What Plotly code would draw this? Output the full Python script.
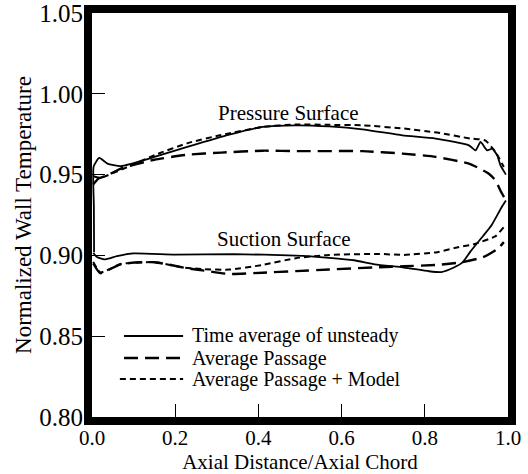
import plotly.graph_objects as go

# ---- Pressure surface ----
ps_unsteady_x = [0.005, 0.0045, 0.004, 0.0175, 0.037, 0.069, 0.15, 0.229, 0.33, 0.41, 0.49, 0.57,
                 0.65, 0.746, 0.826, 0.906, 0.922, 0.934, 0.95, 0.962, 0.974, 0.982, 0.995]
ps_unsteady_y = [0.902, 0.930, 0.955, 0.9603, 0.9568, 0.9553, 0.9609, 0.9671, 0.9747, 0.9795, 0.9805, 0.9798,
                 0.978, 0.9743, 0.9723, 0.9681, 0.965, 0.9702, 0.965, 0.966, 0.962, 0.9557, 0.950]

ps_avgpass_x = [0.003, 0.015, 0.037, 0.069, 0.15, 0.229, 0.31, 0.41, 0.5, 0.65, 0.746, 0.826,
                0.906, 0.93, 0.954, 0.970, 0.982, 0.995]
ps_avgpass_y = [0.944, 0.9475, 0.9495, 0.9537, 0.9592, 0.9623, 0.9636, 0.9648, 0.9645, 0.9645, 0.963, 0.961,
                0.9568, 0.954, 0.9505, 0.9464, 0.940, 0.934]

ps_model_x = [0.003, 0.02, 0.07, 0.15, 0.23, 0.31, 0.41, 0.49, 0.57, 0.65, 0.75, 0.83,
              0.91, 0.945, 0.97, 0.99]
ps_model_y = [0.949, 0.948, 0.953, 0.962, 0.9695, 0.9745, 0.9795, 0.981, 0.9808, 0.9805, 0.9785, 0.976,
              0.9723, 0.9712, 0.964, 0.9547]

# ---- Suction surface ----
ss_unsteady_x = [0.003, 0.012, 0.03, 0.06, 0.10, 0.20, 0.34, 0.49, 0.57, 0.63, 0.68, 0.75,
                 0.81, 0.84, 0.87, 0.89, 0.91, 0.94, 0.96, 0.985, 0.995]
ss_unsteady_y = [0.9015, 0.899, 0.8975, 0.8995, 0.9012, 0.9005, 0.9008, 0.8999, 0.8985, 0.8970, 0.8945, 0.8925,
                 0.8902, 0.8897, 0.8925, 0.8955, 0.9025, 0.912, 0.9185, 0.930, 0.934]

ss_avgpass_x = [0.003, 0.02, 0.07, 0.15, 0.23, 0.27, 0.33, 0.41, 0.49, 0.57, 0.69, 0.75,
                0.83, 0.89, 0.94, 0.975, 0.99]
ss_avgpass_y = [0.895, 0.889, 0.8947, 0.8958, 0.892, 0.8906, 0.8885, 0.8893, 0.8903, 0.8913, 0.8927, 0.8933,
                0.8941, 0.8958, 0.8989, 0.904, 0.9082]

ss_model_x = [0.003, 0.02, 0.07, 0.15, 0.22, 0.27, 0.33, 0.41, 0.49, 0.57, 0.69, 0.75,
              0.83, 0.87, 0.92, 0.97, 0.99]
ss_model_y = [0.896, 0.8895, 0.8947, 0.8958, 0.8925, 0.8915, 0.8912, 0.8941, 0.8983, 0.9003, 0.9009, 0.9003,
              0.902, 0.9045, 0.9071, 0.9119, 0.9175]

# Axis ticks
x_ticks = [0.0, 0.2, 0.4, 0.6, 0.8, 1.0]
x_tick_labels = ["0.0", "0.2", "0.4", "0.6", "0.8", "1.0"]
y_ticks = [0.80, 0.85, 0.90, 0.95, 1.00, 1.05]
y_tick_labels = ["0.80", "0.85", "0.90", "0.95", "1.00", "1.05"]

# Key entries
key_names = ["Time average of unsteady", "Average Passage", "Average Passage + Model"]

SERIF = "Liberation Serif"
styles = {
    key_names[0]: dict(color="black", width=1.8, dash="solid"),
    key_names[1]: dict(color="black", width=2.4, dash="14px,7px"),
    key_names[2]: dict(color="black", width=2.0, dash="6px,4px"),
}

fig = go.Figure()
series = [
    (ps_unsteady_x, ps_unsteady_y, key_names[0]),
    (ps_avgpass_x, ps_avgpass_y, key_names[1]),
    (ps_model_x, ps_model_y, key_names[2]),
    (ss_unsteady_x, ss_unsteady_y, key_names[0]),
    (ss_avgpass_x, ss_avgpass_y, key_names[1]),
    (ss_model_x, ss_model_y, key_names[2]),
]
for xs, ys, name in series:
    fig.add_trace(go.Scatter(x=xs, y=ys, mode="lines", name=name, showlegend=False,
                             line=dict(shape="spline", smoothing=0.5, **styles[name])))

# Surface labels
fig.add_annotation(x=0.472, y=0.988, xref="x", yref="y", text="Pressure Surface",
                   showarrow=False, font=dict(family=SERIF, size=21, color="black"))
fig.add_annotation(x=0.462, y=0.910, xref="x", yref="y", text="Suction Surface",
                   showarrow=False, font=dict(family=SERIF, size=21, color="black"))

# Hand-drawn key in the lower-left corner
key_rows = [0.2005, 0.146, 0.094]
key_x0 = [0.077, 0.077, 0.067]
for name, yk, x0 in zip(key_names, key_rows, key_x0):
    st = styles[name]
    fig.add_shape(type="line", xref="paper", yref="paper", x0=x0, x1=0.219, y0=yk, y1=yk,
                  line=dict(color="black", width=st["width"], dash=st["dash"]))
    fig.add_annotation(x=0.238, y=yk, xref="paper", yref="paper", text=name, showarrow=False,
                       xanchor="left", yanchor="middle", borderpad=0,
                       font=dict(family=SERIF, size=20, color="black"))

axis_common = dict(
    showline=True, linewidth=8, linecolor="black", mirror=True,
    showgrid=False, zeroline=False, automargin=False,
    ticks="inside", ticklen=13, tickwidth=1.3, tickcolor="black",
    ticklabeloverflow="allow",
)

fig.update_layout(
    width=528, height=474,
    margin=dict(l=92, r=20, t=13, b=57),
    paper_bgcolor="white", plot_bgcolor="white",
    showlegend=False,
    xaxis=dict(range=[0, 1.0], tickvals=x_ticks, ticktext=x_tick_labels,
               ticklabelstandoff=-5,
               tickfont=dict(family=SERIF, size=21, color="black"),
               title=dict(text="Axial Distance/Axial Chord", standoff=0,
                          font=dict(family=SERIF, size=21, color="black")),
               **axis_common),
    yaxis=dict(range=[0.80, 1.05], tickvals=y_ticks, ticktext=y_tick_labels,
               ticklabelstandoff=-4,
               tickfont=dict(family=SERIF, size=25, color="black"),
               title=dict(text="Normalized Wall Temperature", standoff=4,
                          font=dict(family=SERIF, size=23, color="black")),
               **axis_common),
)

fig.write_html("out.html")
